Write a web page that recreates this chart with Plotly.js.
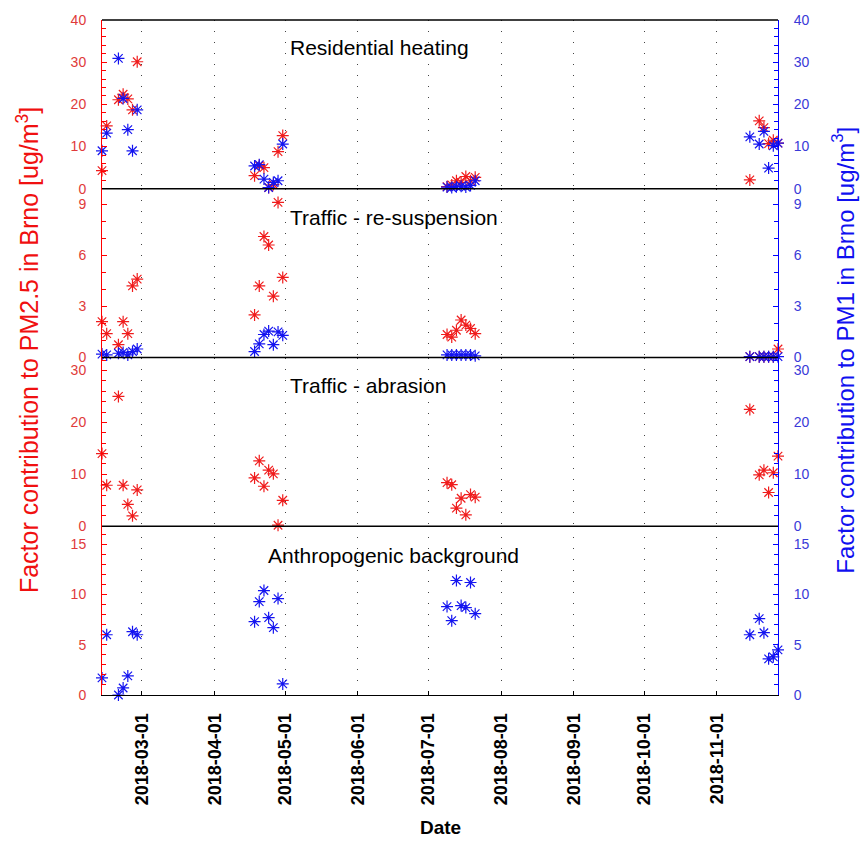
<!DOCTYPE html>
<html>
<head>
<meta charset="utf-8">
<script src="https://cdn.plot.ly/plotly-3.0.1.min.js"></script>
<style>html,body{margin:0;padding:0;background:#fff;}#chart{width:861px;height:845px;}</style>
</head>
<body>
<div id="chart"></div>
<script>
// Sampling dates (four campaigns)
const dates = [
  '2018-02-12','2018-02-14','2018-02-19','2018-02-21','2018-02-23','2018-02-25','2018-02-27',
  '2018-04-18','2018-04-20','2018-04-22','2018-04-24','2018-04-26','2018-04-28','2018-04-30',
  '2018-07-09','2018-07-11','2018-07-13','2018-07-15','2018-07-17','2018-07-19','2018-07-21',
  '2018-11-15','2018-11-19','2018-11-21','2018-11-23','2018-11-25','2018-11-27'
];
// Residential heating
const heatPM25 = [4.3,14.9,21.1,22.4,21.3,18.7,30.1, 3.1,5.5,5.0,0.3,1.0,8.8,12.6, 0.5,0.9,1.9,1.5,2.9,1.9,2.7, 2.1,16.1,14.5,10.7,11.5,10.8];
const heatPM1  = [9.0,13.2,30.9,21.4,14.0,9.0,18.7, 5.4,5.7,2.3,0.3,1.5,1.9,10.6, 0.4,0.3,0.5,0.6,0.4,0.8,1.9, 12.3,10.6,13.6,4.9,10.2,10.8];
// Traffic - re-suspension
const resuspPM25 = [2.1,1.4,0.75,2.1,1.4,4.2,4.6, 2.5,4.2,7.1,6.6,3.6,9.1,4.7, 1.35,1.2,1.6,2.2,1.9,1.7,1.4, 0.05,0.05,0.05,0.05,0.05,0.5];
const resuspPM1  = [0.2,0.15,0.25,0.3,0.15,0.35,0.5, 0.35,0.8,1.35,1.55,0.75,1.5,1.3, 0.15,0.15,0.15,0.15,0.15,0.15,0.1, 0.05,0.05,0.05,0.05,0.05,0.05];
// Traffic - abrasion (PM2.5 only)
const abrasPM25 = [14.0,7.9,25.0,7.9,4.2,2.0,7.0, 9.3,12.6,7.7,10.8,10.1,0.2,5.0, 8.4,8.0,3.5,5.4,2.2,6.1,5.6, 22.5,9.9,10.8,6.5,10.3,13.5];
// Anthropogenic background (PM1 only)
const anthroPM1 = [1.7,6.0,0.0,0.7,1.9,6.3,6.0, 7.3,9.3,10.4,7.7,6.7,9.6,1.1, 8.8,7.4,11.4,8.9,8.7,11.2,8.1, 6.0,7.6,6.2,3.6,3.8,4.5];

const panelTitles = ['Residential heating','Traffic - re-suspension','Traffic - abrasion','Anthropogenic background'];
const monthTicks = ['2018-03-01','2018-04-01','2018-05-01','2018-06-01','2018-07-01','2018-08-01','2018-09-01','2018-10-01','2018-11-01'];

const RED = '#f01c1c', BLUE = '#1414f0';
function pts(y, color, yaxis) {
  return {x: dates, y: y, xaxis: 'x', yaxis: yaxis, type: 'scatter', mode: 'markers', cliponaxis: false,
    marker: {symbol: 'asterisk-open', size: 10, color: color, line: {color: color, width: 1.2}}, showlegend: false, hoverinfo: 'x+y'};
}
// empty placeholder traces so that the axes without a series are still drawn
function empty(yaxis) {
  return {x: [], y: [], xaxis: 'x', yaxis: yaxis, type: 'scatter', mode: 'markers', showlegend: false, hoverinfo: 'skip'};
}
const traces = [
  pts(heatPM25, RED, 'y'), pts(resuspPM25, RED, 'y2'), pts(abrasPM25, RED, 'y3'), empty('y4'),
  pts(heatPM1, BLUE, 'y5'), pts(resuspPM1, BLUE, 'y6'), empty('y7'), pts(anthroPM1, BLUE, 'y8')
];

const FONT = 'Liberation Sans, Arial, sans-serif';
const domains = [[0.75,1],[0.5,0.75],[0.25,0.5],[0,0.25]];
const ranges = [[0,40],[0,9.9],[0,32.5],[0,16.8]];
const dticks = [10,3,10,5];
const minors = [2,1,2,1];

const layout = {
  width: 861, height: 845,
  margin: {l: 102, r: 83, t: 20, b: 150},
  paper_bgcolor: '#fff', plot_bgcolor: '#fff',
  font: {family: FONT, size: 14, color: '#000'},
  showlegend: false,
  xaxis: {
    type: 'date', range: ['2018-02-12','2018-11-27'], anchor: 'y4', domain: [0,1],
    tickvals: monthTicks, ticktext: monthTicks, tickangle: -90,
    ticks: 'inside', ticklen: 4, tickcolor: '#000', ticklabelstandoff: 10,
    tickfont: {family: FONT, size: 18, color: '#000', weight: 'bold'},
    showgrid: true, gridcolor: '#444', gridwidth: 1, griddash: '1px,10px',
    showline: true, linecolor: '#000', linewidth: 1, zeroline: false
  },
  shapes: [], annotations: []
};
for (let i = 0; i < 4; i++) {
  const L = i === 0 ? 'yaxis' : 'yaxis' + (i + 1);
  const R = 'yaxis' + (i + 5);
  layout[L] = {domain: domains[i], range: ranges[i], anchor: 'x', side: 'left', dtick: dticks[i], tick0: 0,
    ticks: 'inside', ticklen: 5, tickcolor: '#ff0000', showline: true, linecolor: '#ff0000', linewidth: 1,
    minor: {dtick: minors[i], ticks: 'inside', ticklen: 4, tickcolor: '#ff0000'},
    tickfont: {family: FONT, size: 14, color: '#e03a3a'}, ticklabelstandoff: 12,
    showgrid: false, zeroline: false, fixedrange: true};
  layout[R] = {domain: domains[i], range: ranges[i], anchor: 'x', overlaying: i === 0 ? 'y' : 'y' + (i + 1), side: 'right',
    dtick: dticks[i], tick0: 0,
    ticks: 'inside', ticklen: 5, tickcolor: '#0000ff', showline: true, linecolor: '#0000ff', linewidth: 1,
    minor: {dtick: minors[i], ticks: 'inside', ticklen: 4, tickcolor: '#0000ff'},
    tickfont: {family: FONT, size: 14, color: '#3a3ad8'}, ticklabelstandoff: 12,
    showgrid: false, zeroline: false, fixedrange: true};
  layout.shapes.push({type: 'line', xref: 'paper', yref: 'paper', x0: 0, x1: 1, y0: domains[i][1], y1: domains[i][1],
    line: {color: '#000', width: 1.3}});
}
const titleX = [0.275, 0.275, 0.275, 0.243];
const titleY = [0.96, 0.708, 0.459, 0.206];
panelTitles.forEach((t, i) => layout.annotations.push({text: t, xref: 'paper', yref: 'paper', x: titleX[i], y: titleY[i],
  xanchor: 'left', yanchor: 'middle', showarrow: false, font: {family: FONT, size: 21, color: '#000'}}));
layout.annotations.push({text: 'Factor contribution to PM2.5 in Brno [ug/m<sup>3</sup>]', xref: 'paper', yref: 'paper',
  x: -0.1095, y: 0.511, xanchor: 'center', yanchor: 'middle', textangle: -90, showarrow: false,
  font: {family: 'Liberation Sans Narrow, Liberation Sans, Arial, sans-serif', size: 25, color: '#f01010'}});
layout.annotations.push({text: 'Factor contribution to PM1 in Brno [ug/m<sup>3</sup>]', xref: 'paper', yref: 'paper',
  x: 1.097, y: 0.511, xanchor: 'center', yanchor: 'middle', textangle: -90, showarrow: false,
  font: {family: FONT, size: 24, color: '#1010f0'}});
layout.annotations.push({text: 'Date', xref: 'paper', yref: 'paper', x: 0.5, y: -0.197, xanchor: 'center', yanchor: 'middle',
  showarrow: false, font: {family: FONT, size: 19, color: '#000', weight: 'bold'}});

Plotly.newPlot('chart', traces, layout, {displayModeBar: false, staticPlot: true});
</script>
</body>
</html>
